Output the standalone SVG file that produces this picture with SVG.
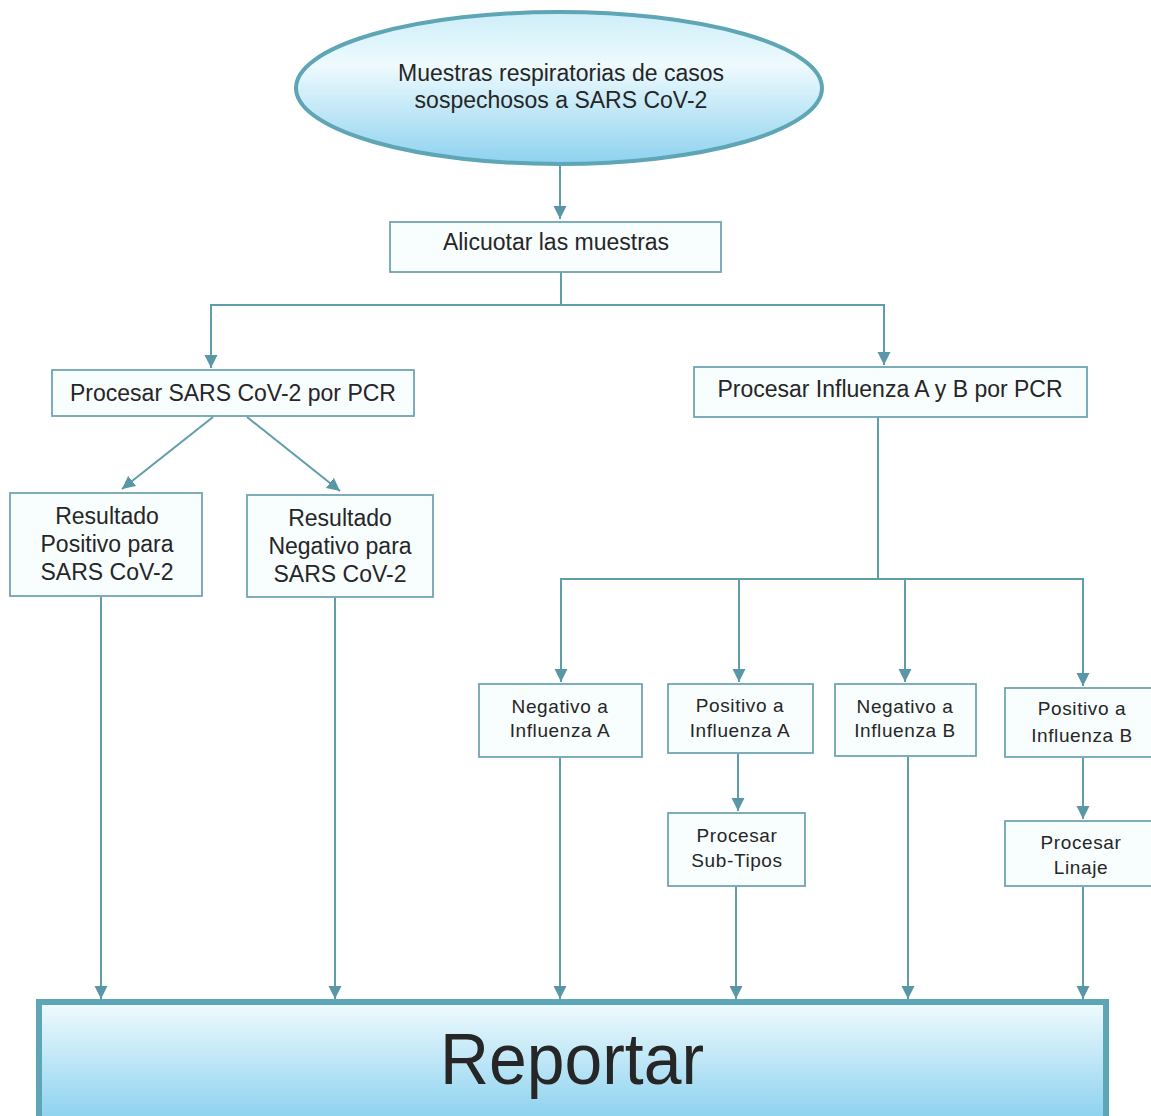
<svg xmlns="http://www.w3.org/2000/svg" width="1151" height="1116" viewBox="0 0 1151 1116">
<style>
.box{fill:#f8fdfe;stroke:#6fa5b1;stroke-width:1.8}
.t{font-family:"Liberation Sans",Arial,sans-serif;fill:#262626;text-anchor:middle}
.big{font-size:23px}
.sm{font-size:19px;letter-spacing:0.6px}
.con{fill:none;stroke:#5f9dab;stroke-width:2}
.arr{marker-end:url(#ah)}
</style>
<defs>
<marker id="ah" markerUnits="userSpaceOnUse" markerWidth="13" markerHeight="14" refX="13" refY="7" orient="auto">
<path d="M0,0.5 L13,7 L0,13.5 z" fill="#5a97a6"/>
</marker>
<linearGradient id="gEll" x1="0" y1="0" x2="0" y2="1">
<stop offset="0" stop-color="#cdeef9"/>
<stop offset="0.35" stop-color="#eefafe"/>
<stop offset="1" stop-color="#8dd2ef"/>
</linearGradient>
<linearGradient id="gRep" x1="0" y1="0" x2="0" y2="1">
<stop offset="0" stop-color="#f0fbfe"/>
<stop offset="1" stop-color="#86cfee"/>
</linearGradient>
</defs>
<rect width="1151" height="1116" fill="#ffffff"/>

<g id="connectors">
<path class="con arr" d="M560,166 V219"/>
<path class="con arr" d="M561,272 V305 H211 V368"/>
<path class="con arr" d="M561,305 H884 V365"/>
<path class="con arr" d="M213,417 L122,489"/>
<path class="con arr" d="M247,417 L340,491"/>
<path class="con arr" d="M101,597 V999"/>
<path class="con arr" d="M335,598 V999"/>
<path class="con arr" d="M878,417 V579 H561 V682"/>
<path class="con arr" d="M878,579 H1083 V686"/>
<path class="con arr" d="M739,579 V682"/>
<path class="con arr" d="M905,579 V682"/>
<path class="con arr" d="M738,754 V811"/>
<path class="con arr" d="M1083,758 V819"/>
<path class="con arr" d="M560,758 V999"/>
<path class="con arr" d="M736,887 V999"/>
<path class="con arr" d="M908,757 V999"/>
<path class="con arr" d="M1083,887 V999"/>
</g>

<g id="n-muestras">
<ellipse cx="559" cy="88" rx="263" ry="76" fill="url(#gEll)" stroke="#5ea5b5" stroke-width="4"/>
<text class="t big" x="561" y="81">Muestras respiratorias de casos</text>
<text class="t big" x="561" y="108">sospechosos a SARS CoV-2</text>
</g>

<g id="n-alicuotar">
<rect class="box" x="390" y="222" width="331" height="50"/>
<text class="t big" x="556" y="250">Alicuotar las muestras</text>
</g>

<g id="n-sars">
<rect class="box" x="52" y="370" width="362" height="46"/>
<text class="t big" x="233" y="401">Procesar SARS CoV-2 por PCR</text>
</g>

<g id="n-influenza">
<rect class="box" x="694" y="367" width="393" height="50"/>
<text class="t big" x="890" y="397">Procesar Influenza A y B por PCR</text>
</g>

<g id="n-pos-sars">
<rect class="box" x="10" y="493" width="192" height="103"/>
<text class="t big" x="107" y="524">Resultado</text>
<text class="t big" x="107" y="552">Positivo para</text>
<text class="t big" x="107" y="580">SARS CoV-2</text>
</g>

<g id="n-neg-sars">
<rect class="box" x="247" y="495" width="186" height="102"/>
<text class="t big" x="340" y="526">Resultado</text>
<text class="t big" x="340" y="554">Negativo para</text>
<text class="t big" x="340" y="582">SARS CoV-2</text>
</g>

<g id="n-neg-a">
<rect class="box" x="479" y="684" width="163" height="73"/>
<text class="t sm" x="560" y="713">Negativo a</text>
<text class="t sm" x="560" y="737">Influenza A</text>
</g>

<g id="n-pos-a">
<rect class="box" x="668" y="684" width="145" height="69"/>
<text class="t sm" x="740" y="712">Positivo a</text>
<text class="t sm" x="740" y="737">Influenza A</text>
</g>

<g id="n-neg-b">
<rect class="box" x="835" y="684" width="141" height="72"/>
<text class="t sm" x="905" y="713">Negativo a</text>
<text class="t sm" x="905" y="737">Influenza B</text>
</g>

<g id="n-pos-b">
<rect class="box" x="1005" y="688" width="152" height="69"/>
<text class="t sm" x="1082" y="715">Positivo a</text>
<text class="t sm" x="1082" y="742">Influenza B</text>
</g>

<g id="n-subtipos">
<rect class="box" x="668" y="813" width="137" height="73"/>
<text class="t sm" x="737" y="842">Procesar</text>
<text class="t sm" x="737" y="867">Sub-Tipos</text>
</g>

<g id="n-linaje">
<rect class="box" x="1005" y="821" width="152" height="65"/>
<text class="t sm" x="1081" y="849">Procesar</text>
<text class="t sm" x="1081" y="874">Linaje</text>
</g>

<g id="n-reportar">
<rect x="39" y="1002" width="1067" height="124" fill="url(#gRep)" stroke="#5ea5b5" stroke-width="6"/>
<text class="t" x="572" y="1084" font-size="72" textLength="264" lengthAdjust="spacingAndGlyphs" fill="#111">Reportar</text>
</g>
</svg>
